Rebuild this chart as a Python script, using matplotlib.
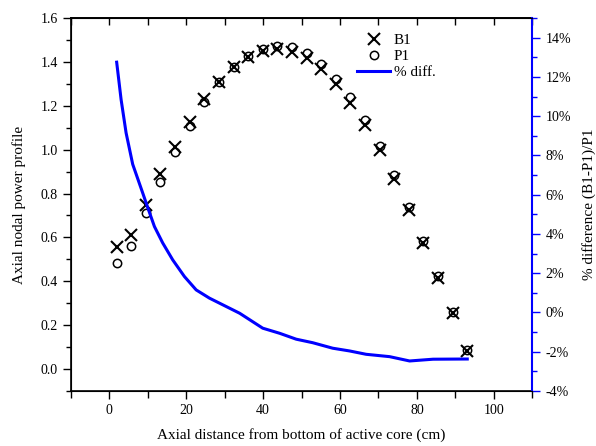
import matplotlib
matplotlib.use('Agg')
import matplotlib.pyplot as plt
from matplotlib.ticker import MultipleLocator, FuncFormatter

plt.rcParams['font.family'] = ['Liberation Serif', 'DejaVu Serif']

# axial positions (cm)
x = [1.9, 5.7, 9.5, 13.3, 17.1, 20.9, 24.7, 28.5, 32.3, 36.1, 39.9, 43.7, 47.5,
     51.3, 55.1, 58.9, 62.7, 66.5, 70.3, 74.1, 77.9, 81.7, 85.5, 89.3, 93.1]

b1 = [0.556, 0.612, 0.748, 0.888, 1.013, 1.124, 1.229, 1.309, 1.378, 1.423, 1.451,
      1.460, 1.446, 1.419, 1.367, 1.299, 1.212, 1.112, 0.997, 0.866, 0.725, 0.576,
      0.416, 0.254, 0.083]

p1 = [0.484, 0.561, 0.711, 0.854, 0.990, 1.109, 1.216, 1.307, 1.378, 1.428, 1.460,
      1.474, 1.466, 1.439, 1.390, 1.323, 1.238, 1.136, 1.018, 0.884, 0.740, 0.585,
      0.424, 0.258, 0.085]

# % difference (B1-P1)/P1, smooth curve
diff_x = [1.9, 3.05, 4.35, 6.07, 8.67, 9.97, 11.72, 13.88, 16.48, 19.53, 22.58,
          26.04, 31.25, 33.9, 39.9, 44.3, 48.6, 52.9, 58.1, 62.5, 66.8, 72.9, 78.1,
          84.2, 93.1]
diff_y = [12.75, 10.85, 9.15, 7.55, 6.09, 5.35, 4.38, 3.54, 2.68, 1.83, 1.15,
          0.73, 0.22, -0.04, -0.80, -1.06, -1.36, -1.54, -1.82, -1.96, -2.13, -2.25,
          -2.47, -2.38, -2.37]

fig = plt.figure(figsize=(5.96, 4.46), dpi=100)
ax = fig.add_axes([0.119, 0.1233, 0.774, 0.8363])
ax2 = ax.twinx()

hb, = ax.plot(x, b1, 'x', color='black', markersize=8, markeredgewidth=1.5, label='B1')
hp, = ax.plot(x, p1, 'o', markerfacecolor='none', markeredgecolor='black',
              markersize=6, markeredgewidth=1.1, label='P1')
hd, = ax2.plot(diff_x, diff_y, color='blue', linewidth=2.2, label='% diff.')

ax.set_xlim(-10, 110)
ax.set_ylim(-0.1, 1.6)
ax2.set_ylim(-4, 15)

ax.xaxis.set_major_locator(MultipleLocator(20))
ax.xaxis.set_minor_locator(MultipleLocator(10))
ax.yaxis.set_major_locator(MultipleLocator(0.2))
ax.yaxis.set_minor_locator(MultipleLocator(0.1))
ax.yaxis.set_major_formatter(FuncFormatter(lambda v, p: f'{v:.1f}'))
ax2.yaxis.set_major_locator(MultipleLocator(2))
ax2.yaxis.set_minor_locator(MultipleLocator(1))
ax2.yaxis.set_major_formatter(FuncFormatter(lambda v, p: f'{v:.0f}%'))

ax.tick_params(axis='both', which='major', direction='out', length=6, width=1, labelsize=10)
ax.tick_params(axis='both', which='minor', direction='out', length=3.5, width=1)
ax.tick_params(axis='x', which='minor', length=5)

top = ax.secondary_xaxis('top')
top.xaxis.set_major_locator(MultipleLocator(10))
top.tick_params(direction='in', length=5, width=1, labeltop=False)
top.spines['top'].set_linewidth(1.2)

ax2.tick_params(axis='y', which='major', direction='out', length=6, width=1,
                colors='blue', labelcolor='black', labelsize=10)
ax2.tick_params(axis='y', which='minor', direction='out', length=3.5, width=1, colors='blue')
ax2.spines['right'].set_color('blue')
ax2.spines['right'].set_linewidth(1.5)
for s in ['left', 'bottom', 'top']:
    ax.spines[s].set_linewidth(1.2)
ax.spines['right'].set_visible(False)

ax.set_xlabel('Axial distance from bottom of active core (cm)', fontsize=11, labelpad=8)
ax.set_ylabel('Axial nodal power profile', fontsize=11, labelpad=10)
ax2.set_ylabel('% difference (B1-P1)/P1', fontsize=11, labelpad=8)

ax2.legend([hb, hp, hd], ['B1', 'P1', '% diff.'], loc='upper left',
           bbox_to_anchor=(0.59, 0.995), frameon=False, fontsize=11,
           handlelength=2.2, handletextpad=0.2, labelspacing=0.15)

fig.savefig('out.png', dpi=100)
